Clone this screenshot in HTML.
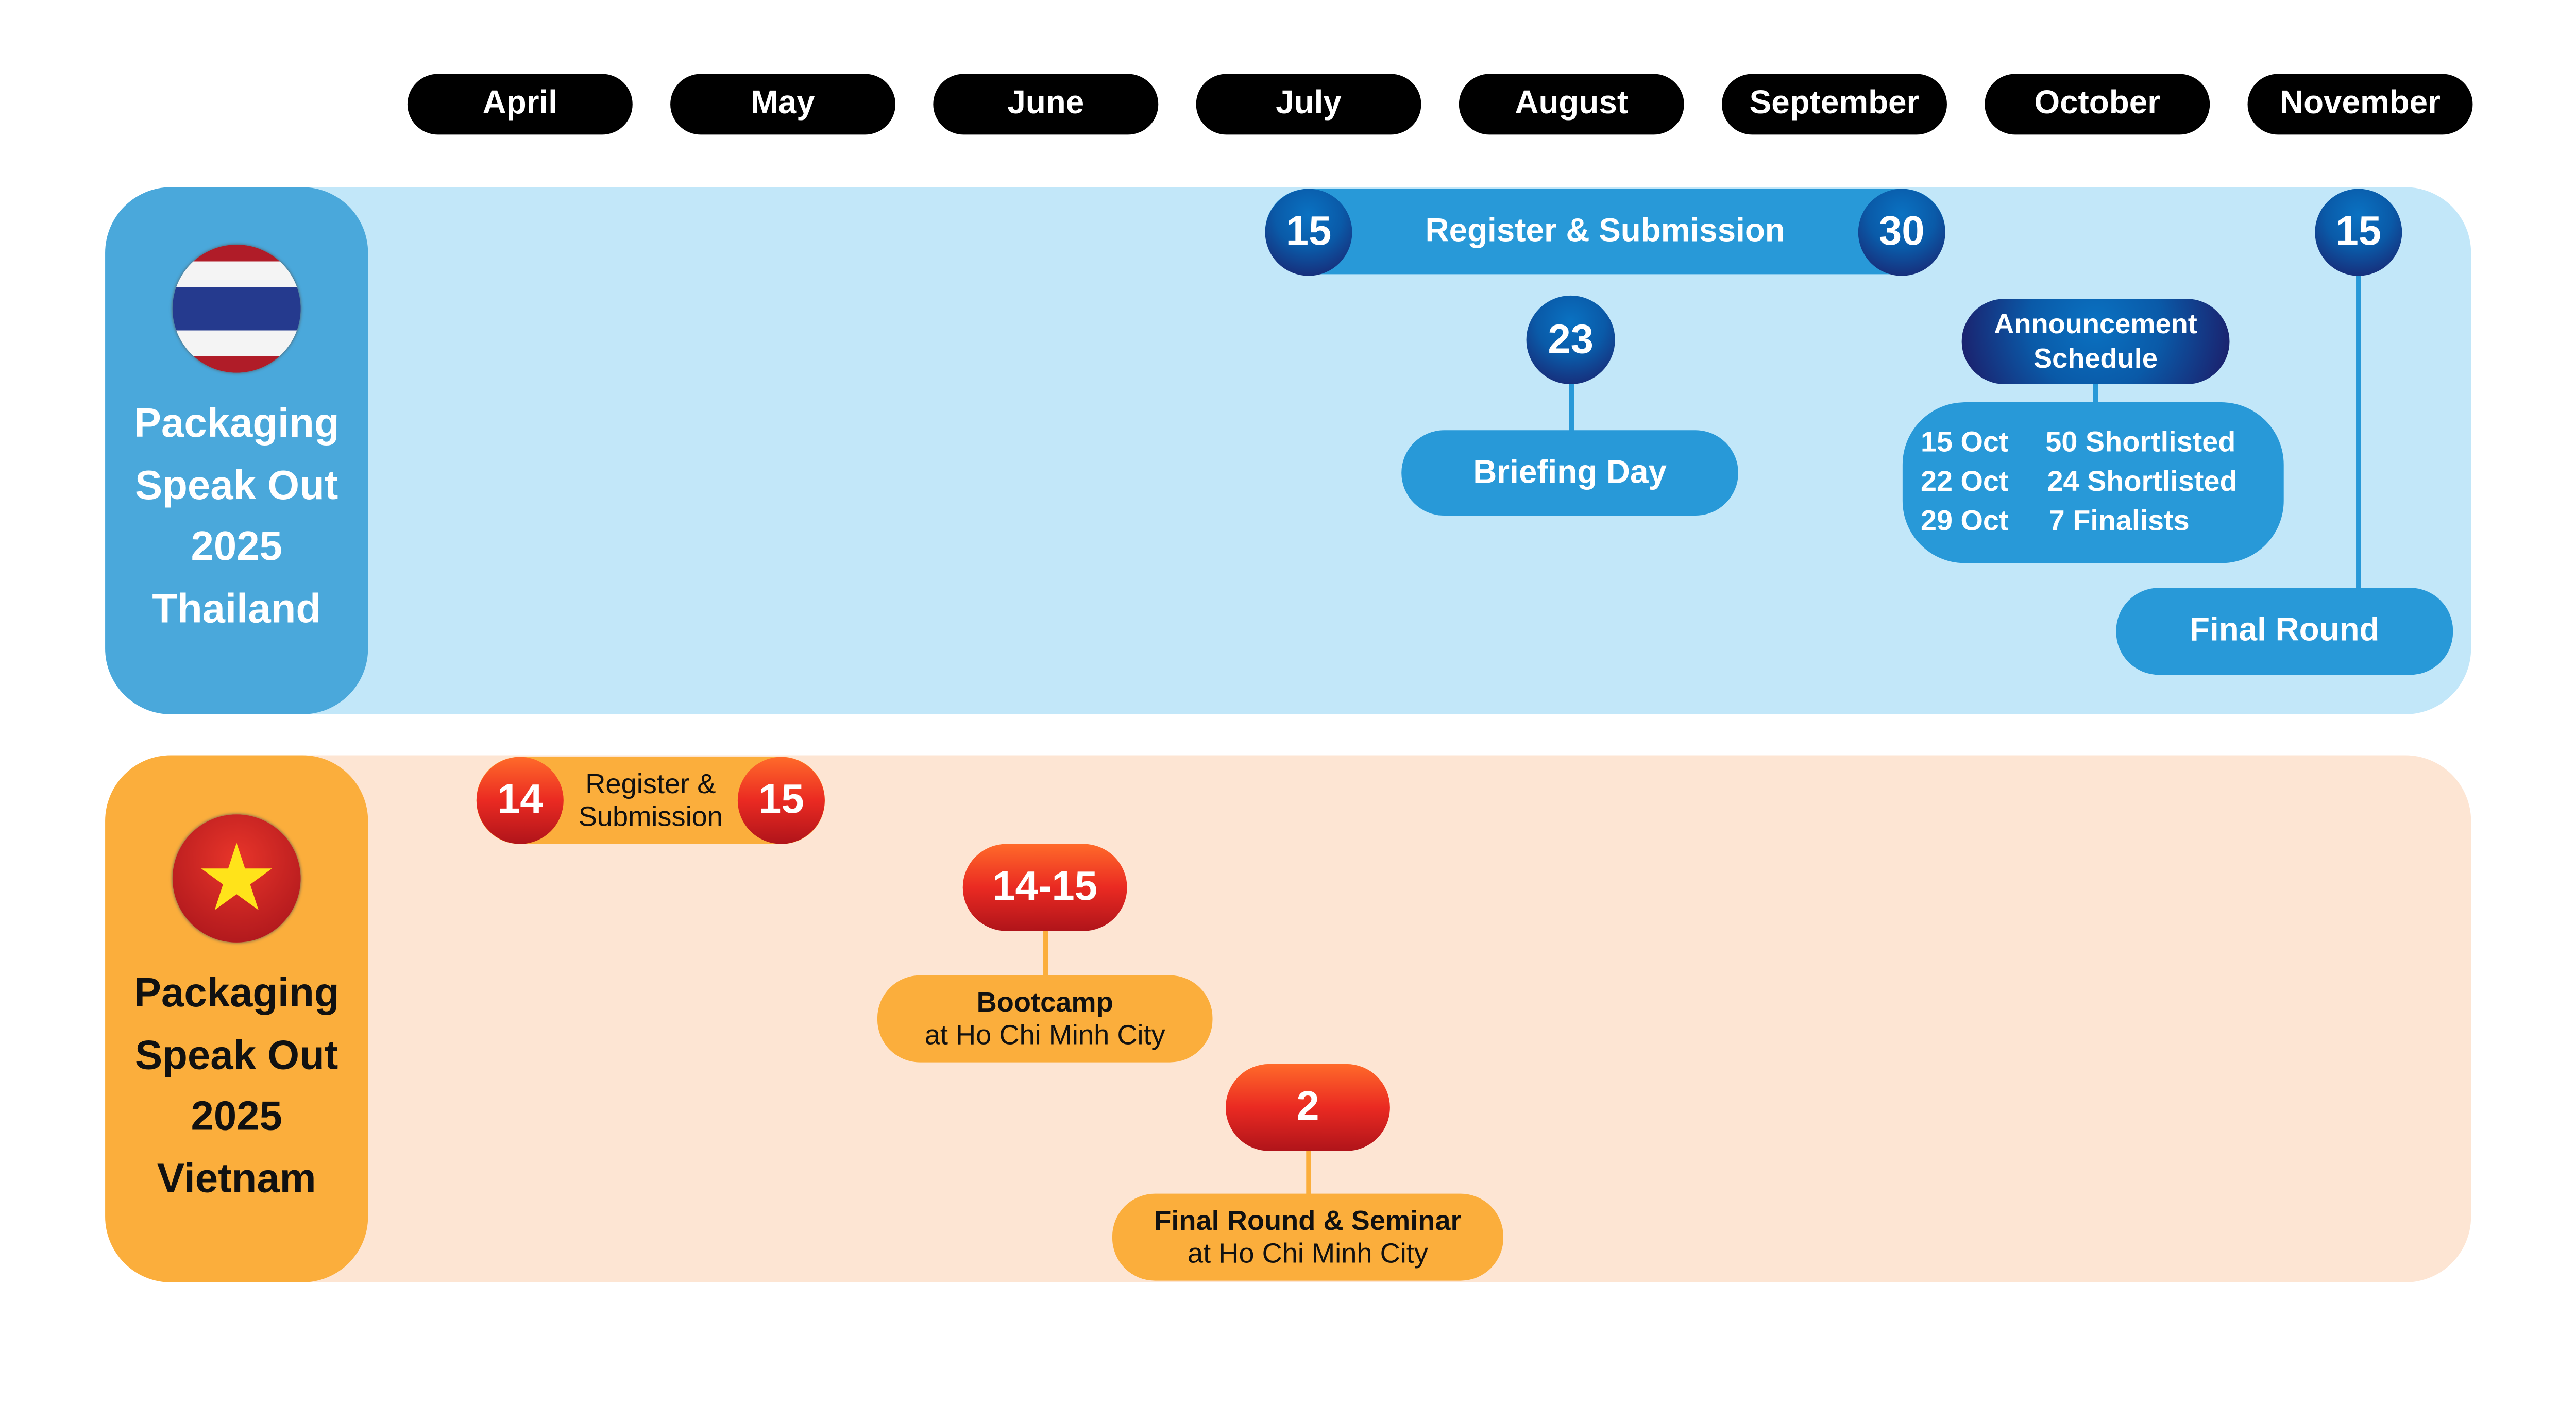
<!DOCTYPE html>
<html><head><meta charset="utf-8"><style>
html,body{margin:0;padding:0;background:#fff;width:5193px;height:2726px;overflow:hidden}
#s{position:absolute;left:0;top:0;width:1560px;height:819px;transform:scale(3.189,3.188);transform-origin:0 0;font-family:"Liberation Sans",sans-serif;font-weight:bold}
.a{position:absolute;box-sizing:border-box;display:flex;align-items:center;justify-content:center;text-align:center}
.m{background:#000;color:#fff;border-radius:19px;height:37px;top:45px;width:137px;font-size:20px}
.bd{background:radial-gradient(circle at 50% 30%,#0a72c2 0%,#0a5aa8 45%,#1d1a66 100%);color:#fff;border-radius:27px}
.rd{background:linear-gradient(#ff6a2a,#ea2a22 50%,#b0141a);color:#fff;border-radius:27px}
.bl{background:#2899d8;color:#fff;border-radius:26px}
.or{background:#fbae3c;color:#111;border-radius:26px}
.ln{position:absolute;width:3px}
</style></head><body><div id="s">
<div class="a m" style="left:248px">April</div>
<div class="a m" style="left:408px">May</div>
<div class="a m" style="left:568px">June</div>
<div class="a m" style="left:728px">July</div>
<div class="a m" style="left:888px">August</div>
<div class="a m" style="left:1048px">September</div>
<div class="a m" style="left:1208px">October</div>
<div class="a m" style="left:1368px">November</div>

<div class="a" style="left:64px;top:114px;width:1440px;height:321px;background:#c2e7f9;border-radius:40px"></div>
<div class="a" style="left:64px;top:114px;width:160px;height:321px;background:#4aa8db;border-radius:40px"></div>
<div class="a" style="left:105px;top:149px;width:78px;height:78px;border-radius:50%;overflow:hidden;background:linear-gradient(#b01c28 0,#b01c28 13%,#f4f4f4 13%,#f4f4f4 33%,#253a8e 33%,#253a8e 67%,#f4f4f4 67%,#f4f4f4 87%,#b01c28 87%);box-shadow:0 0 2px #555"></div>
<div class="a" style="left:64px;top:240px;width:160px;color:#fff;font-size:25px;line-height:37.7px;display:block">Packaging<br>Speak Out<br>2025<br>Thailand</div>

<div class="a bl" style="left:770px;top:115px;width:414px;height:52px;font-size:20px">Register &amp; Submission</div>
<div class="a bd" style="left:770px;top:115px;width:53px;height:53px;font-size:25px">15</div>
<div class="a bd" style="left:1131px;top:115px;width:53px;height:53px;font-size:25px">30</div>
<div class="ln" style="left:955px;top:230px;height:34px;background:#2899d8"></div>
<div class="a bd" style="left:929px;top:180px;width:54px;height:54px;font-size:25px">23</div>
<div class="a bl" style="left:853px;top:262px;width:205px;height:52px;font-size:20px">Briefing Day</div>
<div class="ln" style="left:1274px;top:230px;height:18px;background:#2899d8"></div>
<div class="a bd" style="left:1194px;top:182px;width:163px;height:52px;font-size:17px;line-height:21px">Announcement<br>Schedule</div>
<div class="a bl" style="left:1158px;top:245px;width:232px;height:98px;border-radius:38px;font-size:17.5px;line-height:24px;display:block;padding-top:12px;text-align:left;padding-left:11px"><span style="display:inline-block;width:76px">15 Oct</span>50 Shortlisted<br><span style="display:inline-block;width:77px">22 Oct</span>24 Shortlisted<br><span style="display:inline-block;width:78px">29 Oct</span>7 Finalists</div>
<div class="ln" style="left:1434px;top:160px;height:200px;background:#2899d8"></div>
<div class="a bd" style="left:1409px;top:115px;width:53px;height:53px;font-size:25px">15</div>
<div class="a bl" style="left:1288px;top:358px;width:205px;height:53px;font-size:20px">Final Round</div>

<div class="a" style="left:64px;top:460px;width:1440px;height:321px;background:#fde5d3;border-radius:40px"></div>
<div class="a" style="left:64px;top:460px;width:160px;height:321px;background:#fbae3c;border-radius:40px"></div>
<div class="a" style="left:105px;top:496px;width:78px;height:78px;border-radius:50%;background:radial-gradient(circle at 50% 35%,#e8352a,#a4121a);box-shadow:0 0 2px #555;color:#ffe31a;font-size:50px;line-height:1">★</div>
<div class="a" style="left:64px;top:587px;width:160px;color:#111;font-size:25px;line-height:37.7px;display:block">Packaging<br>Speak Out<br>2025<br>Vietnam</div>

<div class="a or" style="left:290px;top:461px;width:212px;height:53px;font-weight:normal;font-size:17px;line-height:20px">Register &amp;<br>Submission</div>
<div class="a rd" style="left:290px;top:461px;width:53px;height:53px;font-size:25px">14</div>
<div class="a rd" style="left:449px;top:461px;width:53px;height:53px;font-size:25px">15</div>
<div class="ln" style="left:635px;top:560px;height:36px;background:#fbae3c"></div>
<div class="a rd" style="left:586px;top:514px;width:100px;height:53px;font-size:25px">14-15</div>
<div class="a or" style="left:534px;top:594px;width:204px;height:53px;font-size:17px;line-height:20px;display:block;padding-top:7px">Bootcamp<br><span style="font-weight:normal">at Ho Chi Minh City</span></div>
<div class="ln" style="left:795px;top:695px;height:34px;background:#fbae3c"></div>
<div class="a rd" style="left:746px;top:648px;width:100px;height:53px;font-size:25px">2</div>
<div class="a or" style="left:677px;top:727px;width:238px;height:53px;font-size:17px;line-height:20px;display:block;padding-top:7px">Final Round &amp; Seminar<br><span style="font-weight:normal">at Ho Chi Minh City</span></div>
</div></body></html>
